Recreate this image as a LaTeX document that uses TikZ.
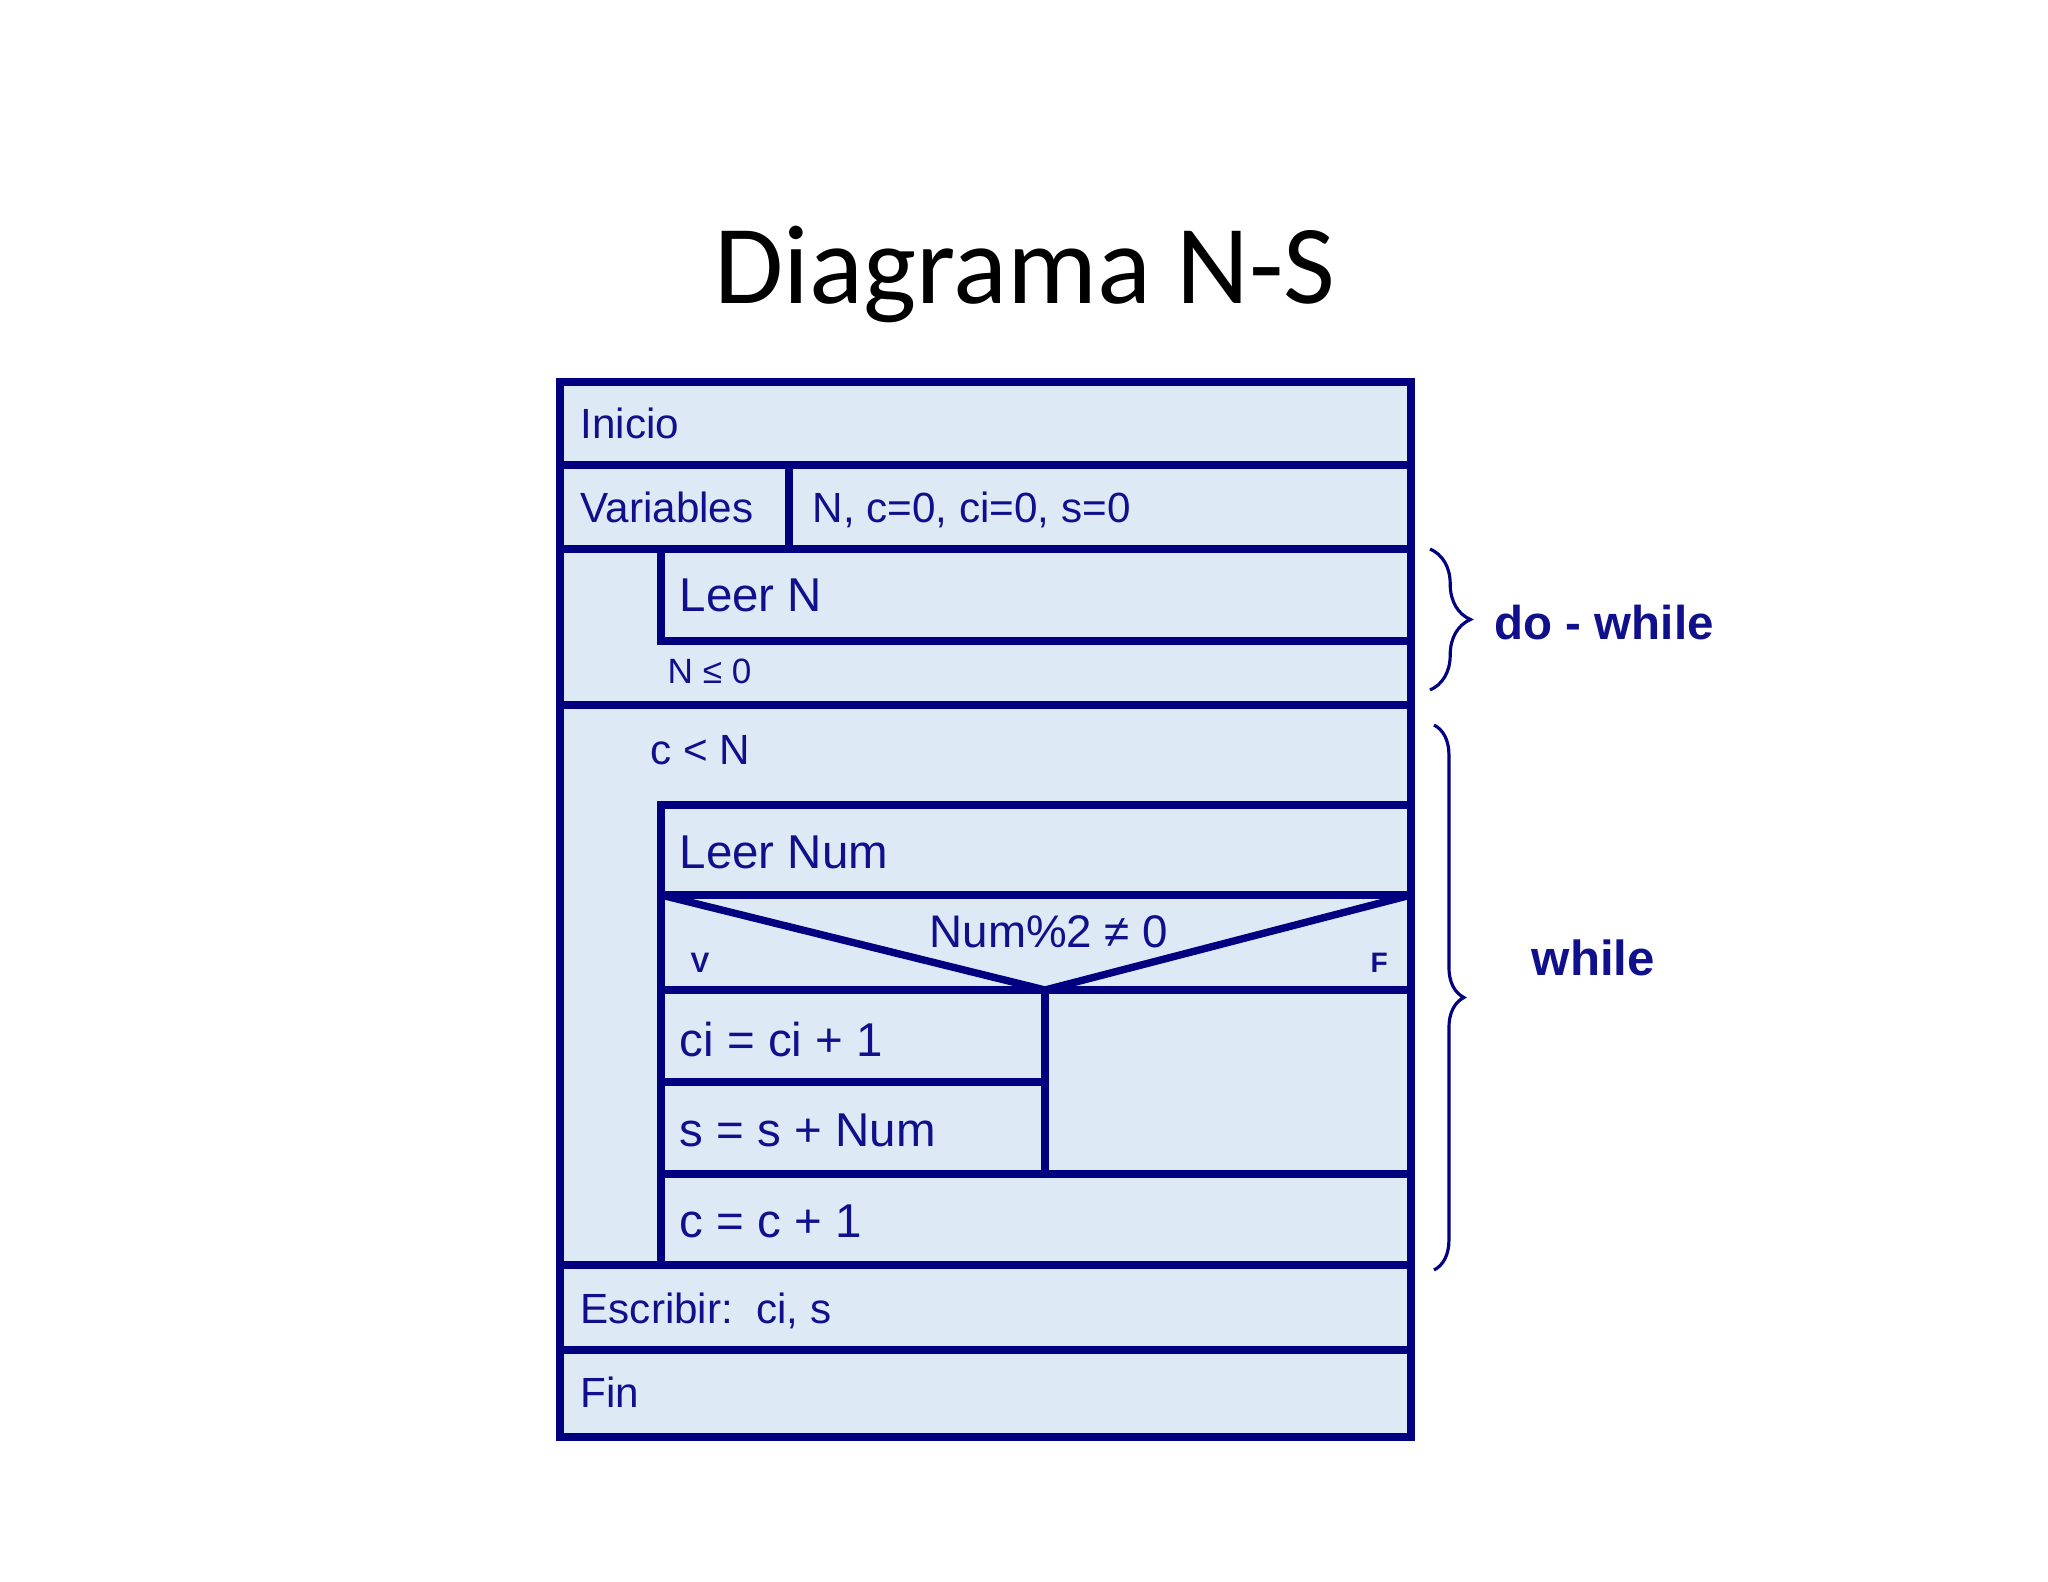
\documentclass[tikz,border=0pt]{standalone}
\usepackage{fontspec}
\setmainfont{Liberation Sans}
\newfontfamily\titlefont{Carlito}
\usetikzlibrary{decorations.pathreplacing}
\definecolor{nsline}{RGB}{0,0,128}
\definecolor{nsfill}{RGB}{222,233,246}
\definecolor{nstext}{RGB}{16,16,140}

\begin{document}
\begin{tikzpicture}[x=0.01cm,y=-0.01cm,
    rule/.style={draw=nsline,line width=2.1pt},
    txt/.style={anchor=base west,inner sep=0pt,text=nstext,font=\fontsize{12}{14}\selectfont},
    big/.style={txt,font=\fontsize{13.5}{16}\selectfont},
    tag/.style={anchor=base west,inner sep=0pt,text=nstext,font=\bfseries\fontsize{13.5}{16}\selectfont},
    loopbrace/.style={draw=nsline,line width=0.9pt,decorate}]
  \useasboundingbox (0,0) rectangle (2048,1582);
  \node[anchor=base,inner sep=0pt,font=\titlefont\fontsize{32}{38}\selectfont](title)at(1025,304){Diagrama N-S};
  \draw[rule,fill=nsfill,line width=2.5pt] (560,382) rectangle (1411,1437);
  \foreach \y in {465,549,705,1265,1350}
    \draw[rule] (560,\y) -- (1411,\y);
  \draw[rule] (789,465) -- (789,549);
  \draw[rule] (661,549) rectangle (1411,641);
  \draw[rule] (661,805) rectangle (1411,1265);
  \foreach \y in {895,990,1174}
    \draw[rule] (661,\y) -- (1411,\y);
  \draw[rule] (661,1082) -- (1045,1082);
  \draw[rule] (1045,990) -- (1045,1174);
  \draw[rule] (661,895) -- (1045,990) -- (1411,895);
  \node[txt](inicio)at(580,438){Inicio};
  \node[txt](vars)at(580,522){Variables};
  \node[txt](decl)at(812,522){N, c=0, ci=0, s=0};
  \node[big](leern)at(679,611){Leer N};
  \node[txt,font=\fontsize{10}{12}\selectfont](until)at(667,683){N ≤ 0};
  \node[txt](cond)at(650,764){c < N};
  \node[big](leernum)at(679,868){Leer Num};
  \node[txt,anchor=base,font=\fontsize{13}{15}\selectfont](test)at(1049,947){Num\%2 ≠ 0};
  \node[txt,font=\bfseries\fontsize{8}{10}\selectfont](yes)at(690,972){V};
  \node[txt,font=\bfseries\fontsize{8}{10}\selectfont](no)at(1370,972){F};
  \node[big](incci)at(679,1056){ci = ci + 1};
  \node[big](incs)at(679,1146){s = s + Num};
  \node[big](incc)at(679,1237){c = c + 1};
  \node[txt](write)at(580,1323){Escribir:\ \ ci, s};
  \node[txt](fin)at(580,1407){Fin};
  \coordinate (dwtop) at (1430,549);
  \coordinate (dwbot) at (1430,690);
  \coordinate (wtop) at (1434,725);
  \coordinate (wbot) at (1434,1270);
  \draw[loopbrace,decoration={brace,amplitude=11.5pt}] (dwtop) -- (dwbot);
  \draw[loopbrace,decoration={brace,amplitude=8.5pt}] (wtop) -- (wbot);
  \node[tag](dolabel)at(1494,639){do - while};
  \node[tag,font=\bfseries\fontsize{14}{16}\selectfont](whilelabel)at(1531,975){while};
\end{tikzpicture}
\end{document}
